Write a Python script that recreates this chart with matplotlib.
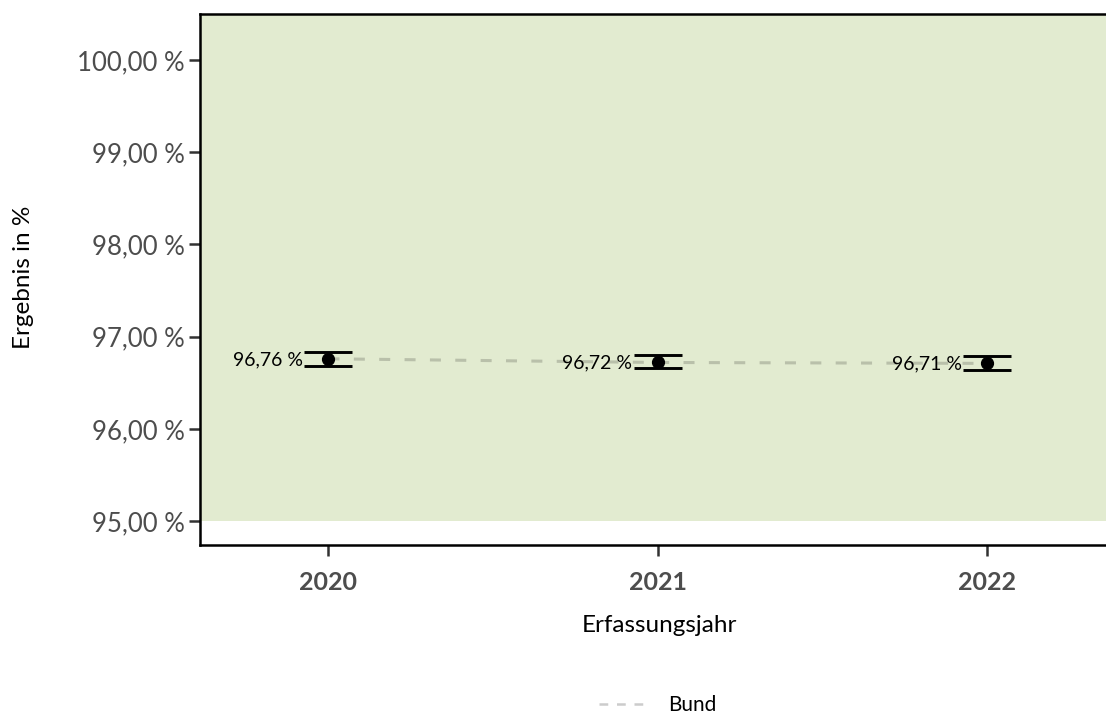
import matplotlib
matplotlib.use("Agg")
import matplotlib.pyplot as plt
from matplotlib.lines import Line2D

plt.rcParams['font.family'] = ['Lato', 'DejaVu Sans']

years = [2020, 2021, 2022]
values = [96.76, 96.72, 96.71]
ci_low = [96.68, 96.66, 96.64]
ci_high = [96.83, 96.80, 96.79]
labels = ["96,76 %", "96,72 %", "96,71 %"]
yticks = [95, 96, 97, 98, 99, 100]
ytick_labels = ["95,00 %", "96,00 %", "97,00 %", "98,00 %", "99,00 %", "100,00 %"]

fig = plt.figure(figsize=(11.06, 7.15), dpi=100)
ax = fig.add_axes([200/1106, 170/715, 906/1106, 531/715])

ax.set_xlim(2019.61, 2022.36)
ax.set_ylim(94.74, 100.5)

ax.axhspan(95, 100.5, color="#e2ebd0", zorder=0, lw=0)

ax.plot(years, values, ls=(0, (3.6, 4.7)), color="#b9c0aa", lw=2.2, zorder=2)

yerr = [[v - l for v, l in zip(values, ci_low)], [h - v for v, h in zip(values, ci_high)]]
ax.errorbar(years, values, yerr=yerr, fmt='o', color='black', ms=8.5,
            capsize=17.6, capthick=2.1, elinewidth=2, zorder=3)

for x, v, t in zip(years, values, labels):
    ax.annotate(t, (x, v), xytext=(-18.5, -0.5), textcoords='offset points',
                ha='right', va='center', fontsize=14, color='black', zorder=4)

ax.set_yticks(yticks)
ax.set_yticklabels(ytick_labels, fontsize=18.5, color="#4d4d4d")
ax.set_xticks(years)
ax.set_xticklabels([str(y) for y in years], fontsize=18, fontweight='bold', color="#4d4d4d")
ax.tick_params(axis='both', length=8, width=1.8, color="#333333")
ax.tick_params(axis='y', pad=3)
ax.tick_params(axis='x', pad=11)

for s in ['left', 'bottom', 'top']:
    ax.spines[s].set_linewidth(1.8)
    ax.spines[s].set_color('black')
ax.spines['right'].set_visible(False)

fig.text(659/1106, 1 - 626/715, "Erfassungsjahr", fontsize=17.5, ha='center', va='center')
fig.text(23/1106, 1 - 277/715, "Ergebnis in %", fontsize=17.5, ha='center', va='center', rotation=90)

handle = Line2D([0], [0], ls=(0, (3.5, 3.5)), color="#cccccc", lw=1.8)
fig.legend([handle], ["Bund"], loc='center', bbox_to_anchor=(658/1106, 1 - 705/715),
           frameon=False, fontsize=15, handlelength=2.3, handletextpad=1.0)

fig.savefig("out.png", dpi=100)
